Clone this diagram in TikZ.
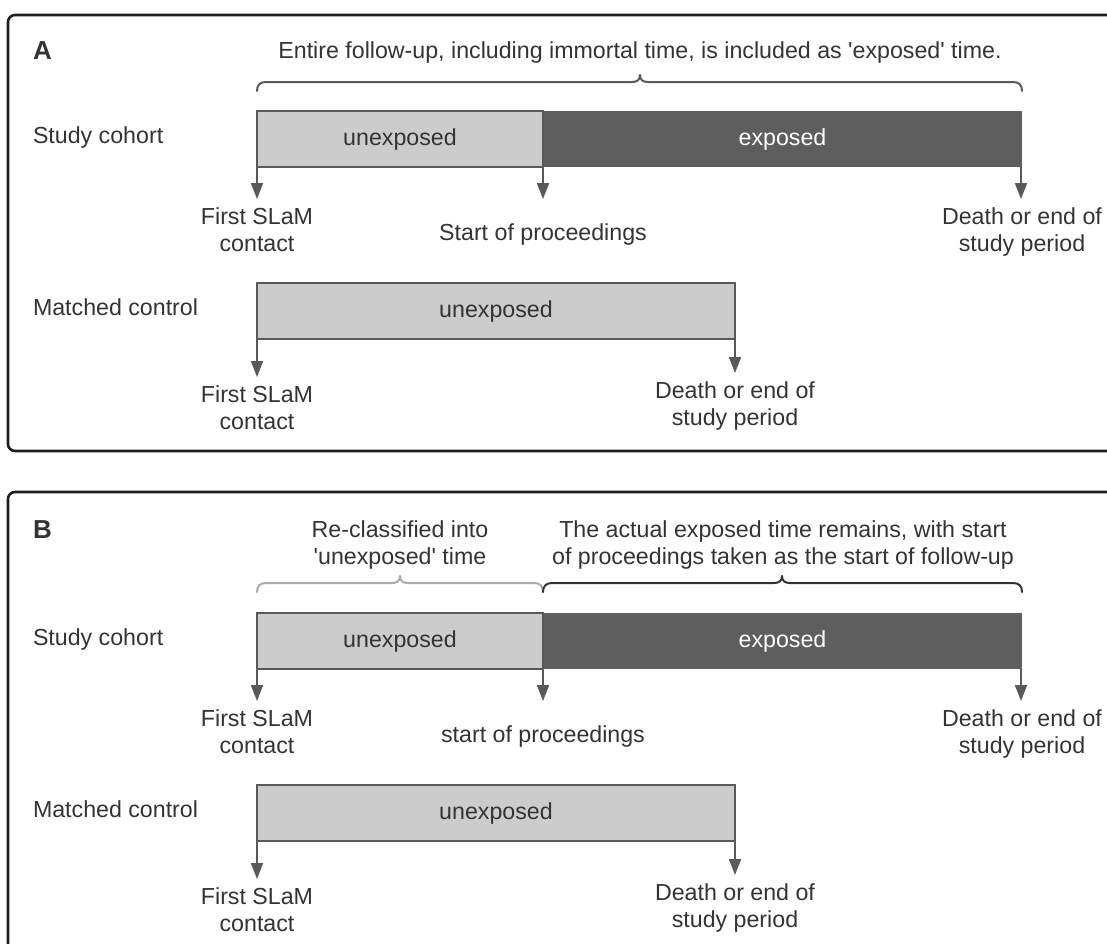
\documentclass[tikz,border=0pt]{standalone}
\usepackage{fontspec}
\setmainfont{Liberation Sans}[Ligatures=TeXOff]
\usetikzlibrary{arrows.meta}

\definecolor{ink}{HTML}{333333}
\definecolor{frame}{HTML}{1E1E1E}
\definecolor{edge}{HTML}{595959}
\definecolor{pale}{HTML}{CCCCCC}
\definecolor{dark}{HTML}{5E5E5E}
\definecolor{palebrace}{HTML}{AAAAAA}
\definecolor{inkbrace}{HTML}{333333}

\tikzset{
  txt/.style={text=ink, font=\fontsize{23.2}{27}\selectfont, inner sep=0pt, outer sep=0pt, align=center},
  paneltag/.style={txt, font=\fontsize{26}{30}\selectfont\bfseries},
  panel/.style={draw=frame, line width=2.6pt, rounded corners=7pt},
  lightbar/.style={txt, draw=edge, fill=pale, line width=2.2pt, minimum height=56pt, anchor=north west},
  darkbar/.style={txt, fill=dark, text=white, minimum height=56pt, anchor=north west},
  tick/.style={draw=edge, line width=1.8pt, -{Triangle[length=16pt,width=12pt]}},
  bracestyle/.style={line width=2pt, line cap=round, line join=round},
}

% horizontal curly brace: style, left x, tip x, right x, y of the long stroke
\newcommand{\tlbrace}[5]{%
  \draw[bracestyle,#1] ({#2},{#5+9}) .. controls ({#2},{#5+3}) and ({#2+3},{#5}) .. ({#2+9},{#5})
    -- ({#3-8},{#5}) .. controls ({#3-3},{#5}) and ({#3},{#5-2}) .. ({#3},{#5-7})
    .. controls ({#3},{#5-2}) and ({#3+3},{#5}) .. ({#3+8},{#5})
    -- ({#4-9},{#5}) .. controls ({#4-3},{#5}) and ({#4},{#5+3}) .. ({#4},{#5+9});}

\begin{document}
\begin{tikzpicture}[x=1pt, y=-1pt]
\useasboundingbox (0,0) rectangle (1107,943);
\clip (0,0) rectangle (1107,943);

% ---------------- panel A ----------------
\draw[panel] (8,15) rectangle (1130,451);
\node[paneltag, anchor=base west] (tagA) at (33,59) {A};
\node[txt, anchor=base] (titleA) at (640,58) {Entire follow-up, including immortal time, is included as 'exposed' time.};
\tlbrace{draw=edge}{257}{640}{1022}{82}

\node[txt, anchor=base west] (scA) at (33,143) {Study cohort};
\node[darkbar, minimum width=479pt] (expA) at (543,111) {exposed};
\node[lightbar, minimum width=286pt] (unexA) at (257,111) {unexposed};

\node[txt, anchor=north] (firstA) at (257,208) {First SLaM\\contact};
\node[txt, anchor=base] (procA) at (543,240) {Start of proceedings};
\node[txt, anchor=north] (endA) at (1022,208) {Death or end of\\study period};
\coordinate (tA1) at (257,199);
\coordinate (tA2) at (543,199);
\coordinate (tA3) at (1021,199);
\draw[tick] (unexA.south west) -- (tA1);
\draw[tick] (unexA.south east) -- (tA2);
\draw[tick] ([xshift=-1pt]expA.south east) -- (tA3);

\node[txt, anchor=base west] (mcA) at (33,315) {Matched control};
\node[lightbar, minimum width=478pt] (ctlA) at (257,283) {unexposed};
\node[txt, anchor=north] (cfirstA) at (257,386) {First SLaM\\contact};
\node[txt, anchor=north] (cendA) at (735,382) {Death or end of\\study period};
\coordinate (tA4) at (257,377);
\coordinate (tA5) at (735,373);
\draw[tick] (ctlA.south west) -- (tA4);
\draw[tick] (ctlA.south east) -- (tA5);

% ---------------- panel B ----------------
\draw[panel] (8,492) rectangle (1130,980);
\node[paneltag, anchor=base west] (tagB) at (33,538) {B};
\node[txt, anchor=north] (reclB) at (400,521) {Re-classified into\\'unexposed' time};
\node[txt, anchor=north] (actB) at (783,521) {The actual exposed time remains, with start\\of proceedings taken as the start of follow-up};
\tlbrace{draw=palebrace}{257}{400}{543}{583}
\tlbrace{draw=inkbrace}{543}{782}{1022}{583}

\node[txt, anchor=base west] (scB) at (33,645) {Study cohort};
\node[darkbar, minimum width=479pt] (expB) at (543,613) {exposed};
\node[lightbar, minimum width=286pt] (unexB) at (257,613) {unexposed};

\node[txt, anchor=north] (firstB) at (257,710) {First SLaM\\contact};
\node[txt, anchor=base] (procB) at (543,742) {start of proceedings};
\node[txt, anchor=north] (endB) at (1022,710) {Death or end of\\study period};
\coordinate (tB1) at (257,701);
\coordinate (tB2) at (543,701);
\coordinate (tB3) at (1021,701);
\draw[tick] (unexB.south west) -- (tB1);
\draw[tick] (unexB.south east) -- (tB2);
\draw[tick] ([xshift=-1pt]expB.south east) -- (tB3);

\node[txt, anchor=base west] (mcB) at (33,817) {Matched control};
\node[lightbar, minimum width=478pt] (ctlB) at (257,785) {unexposed};
\node[txt, anchor=north] (cfirstB) at (257,888) {First SLaM\\contact};
\node[txt, anchor=north] (cendB) at (735,884) {Death or end of\\study period};
\coordinate (tB4) at (257,879);
\coordinate (tB5) at (735,875);
\draw[tick] (ctlB.south west) -- (tB4);
\draw[tick] (ctlB.south east) -- (tB5);
\end{tikzpicture}
\end{document}
